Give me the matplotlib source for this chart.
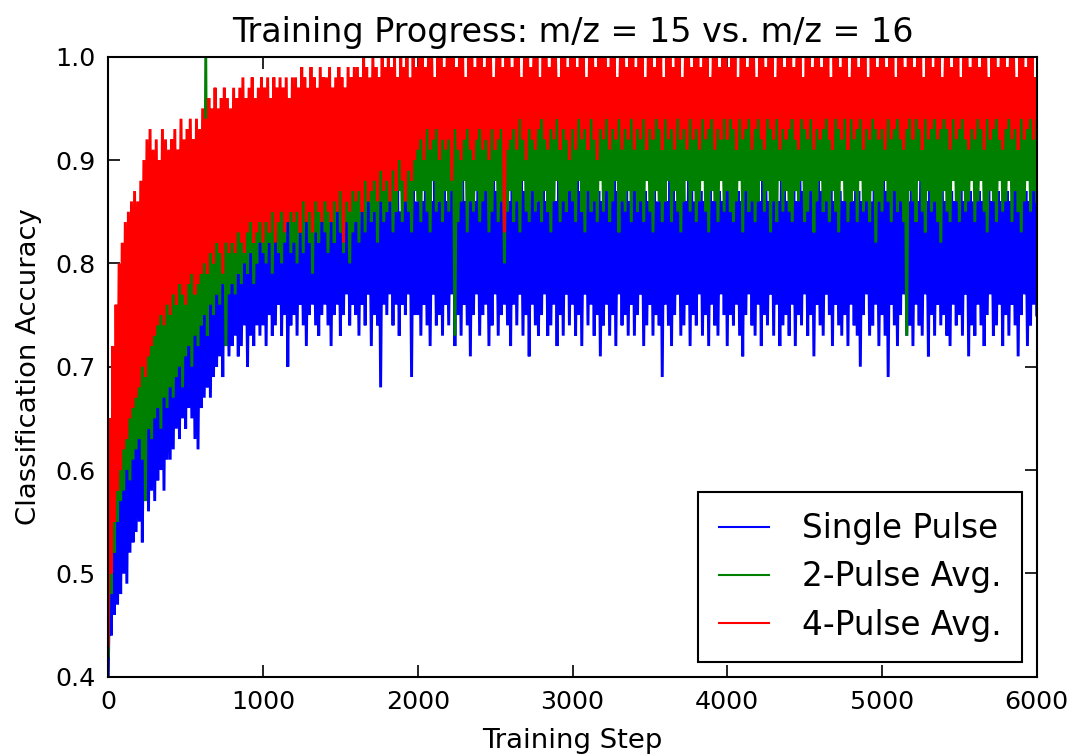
import numpy as np
import matplotlib
matplotlib.use("Agg")
import matplotlib.pyplot as plt
from matplotlib.ticker import FormatStrFormatter
from matplotlib.lines import Line2D

plt.rcParams["path.simplify"] = False

# Training steps (logged every 10 steps)
steps = np.arange(0, 6001, 10)

# Classification accuracy in percent (rows of 200 steps)
single_pulse_pct = [
    40, 52, 44, 58, 46, 62, 47, 60, 48, 64, 50, 66, 49, 68, 52, 67, 53, 70, 54, 72,
    55, 73, 53, 70, 57, 74, 56, 75, 58, 76, 57, 74, 59, 77, 60, 76, 58, 78, 61, 77,
    61, 78, 62, 79, 64, 78, 63, 80, 65, 79, 64, 81, 66, 80, 65, 79, 63, 81, 62, 80,
    66, 82, 67, 81, 68, 83, 67, 82, 69, 81, 70, 83, 71, 82, 69, 84, 72, 83, 71, 82,
    72, 84, 73, 83, 71, 85, 72, 84, 74, 83, 70, 85, 73, 84, 72, 86, 74, 85, 73, 84,
    74, 85, 72, 86, 75, 84, 73, 86, 74, 85, 76, 87, 73, 85, 75, 86, 70, 84, 74, 86,
    75, 86, 73, 85, 76, 87, 74, 86, 72, 85, 75, 87, 76, 86, 74, 85, 73, 87, 75, 86,
    76, 87, 74, 86, 72, 85, 75, 87, 76, 86, 73, 88, 75, 86, 77, 87, 74, 85, 76, 88,
    75, 86, 73, 87, 76, 85, 74, 88, 77, 86, 72, 87, 75, 86, 74, 88, 68, 87, 76, 86,
    75, 87, 77, 86, 74, 88, 76, 87, 73, 85, 76, 88, 75, 86, 77, 87, 69, 88, 75, 86,
    75, 87, 73, 86, 76, 88, 74, 87, 72, 86, 77, 88, 74, 86, 75, 87, 73, 88, 76, 86,
    74, 87, 77, 88, 72, 86, 75, 87, 73, 88, 76, 86, 74, 87, 71, 88, 75, 86, 77, 87,
    73, 86, 75, 88, 76, 87, 72, 86, 74, 88, 77, 87, 73, 86, 75, 88, 76, 87, 74, 86,
    72, 88, 76, 87, 74, 86, 77, 88, 73, 87, 75, 86, 71, 88, 76, 87, 74, 86, 73, 88,
    75, 87, 77, 86, 73, 88, 74, 87, 76, 86, 72, 88, 75, 87, 73, 86, 77, 88, 74, 87,
    76, 86, 73, 88, 75, 87, 72, 86, 77, 88, 74, 87, 76, 86, 73, 88, 75, 87, 71, 86,
    74, 88, 76, 87, 73, 86, 75, 88, 72, 87, 77, 86, 74, 88, 75, 87, 73, 86, 76, 88,
    73, 87, 75, 86, 77, 88, 72, 87, 74, 86, 76, 88, 73, 87, 75, 86, 74, 88, 69, 87,
    76, 86, 74, 88, 72, 87, 75, 86, 77, 88, 73, 87, 74, 86, 76, 88, 72, 87, 75, 86,
    74, 88, 77, 87, 73, 86, 75, 88, 72, 87, 76, 86, 74, 88, 73, 87, 77, 86, 75, 88,
    72, 87, 75, 86, 74, 88, 76, 87, 73, 86, 71, 88, 75, 87, 77, 86, 74, 88, 73, 87,
    76, 86, 72, 88, 75, 87, 74, 86, 77, 88, 73, 87, 76, 86, 72, 88, 74, 87, 75, 86,
    73, 88, 76, 87, 72, 86, 75, 88, 74, 87, 77, 86, 73, 88, 75, 87, 71, 86, 76, 88,
    74, 87, 73, 86, 77, 88, 75, 87, 72, 86, 76, 88, 74, 87, 73, 86, 75, 88, 72, 87,
    76, 86, 74, 88, 73, 87, 70, 86, 75, 88, 77, 87, 73, 86, 74, 88, 76, 87, 72, 86,
    75, 88, 73, 87, 69, 86, 76, 88, 74, 87, 72, 86, 75, 88, 77, 87, 73, 86, 74, 88,
    72, 87, 76, 86, 74, 88, 73, 87, 77, 86, 71, 88, 75, 87, 73, 86, 76, 88, 74, 87,
    75, 86, 73, 88, 72, 87, 76, 86, 74, 88, 75, 87, 73, 86, 77, 88, 71, 87, 74, 86,
    73, 88, 76, 87, 74, 86, 72, 88, 75, 87, 77, 86, 73, 88, 74, 87, 76, 86, 72, 88,
    75, 87, 73, 86, 76, 88, 74, 87, 71, 86, 75, 88, 77, 87, 72, 86, 74, 88, 76, 87,
    75,
]

two_pulse_pct = [
    42, 60, 48, 66, 52, 70, 55, 72, 57, 74, 58, 76, 60, 78, 59, 80, 61, 79, 62, 81,
    63, 82, 61, 83, 57, 81, 64, 84, 63, 83, 65, 85, 66, 84, 64, 86, 67, 85, 66, 86,
    68, 86, 67, 87, 69, 86, 70, 88, 68, 87, 71, 88, 72, 87, 70, 89, 73, 88, 72, 87,
    74, 89, 75, 100, 73, 88, 76, 89, 75, 90, 77, 88, 76, 89, 78, 90, 72, 89, 77, 88,
    78, 90, 77, 89, 79, 91, 78, 90, 80, 89, 79, 91, 81, 90, 78, 89, 80, 91, 82, 90,
    81, 91, 80, 90, 82, 92, 79, 91, 83, 90, 81, 92, 80, 91, 82, 90, 84, 92, 81, 91,
    82, 92, 80, 91, 83, 93, 81, 92, 84, 91, 82, 93, 79, 92, 83, 91, 82, 93, 84, 92,
    83, 93, 81, 92, 84, 91, 82, 93, 85, 92, 83, 94, 81, 93, 84, 92, 80, 93, 83, 94,
    84, 93, 82, 94, 85, 92, 83, 93, 86, 94, 84, 92, 85, 93, 82, 94, 86, 93, 84, 92,
    85, 94, 86, 93, 83, 94, 85, 92, 87, 94, 84, 93, 86, 94, 85, 93, 83, 92, 87, 94,
    86, 94, 84, 95, 87, 93, 85, 94, 83, 95, 88, 94, 85, 93, 86, 95, 84, 94, 87, 95,
    85, 94, 87, 95, 73, 94, 84, 93, 86, 95, 88, 94, 83, 95, 86, 94, 85, 93, 87, 95,
    84, 94, 86, 95, 87, 93, 83, 94, 85, 95, 88, 94, 84, 93, 86, 95, 80, 94, 85, 95,
    87, 94, 84, 96, 86, 95, 83, 94, 88, 96, 85, 95, 84, 94, 87, 96, 85, 95, 86, 94,
    84, 95, 87, 96, 85, 94, 83, 95, 86, 96, 88, 94, 84, 95, 86, 96, 85, 94, 87, 95,
    86, 96, 84, 95, 88, 94, 85, 96, 83, 95, 87, 94, 85, 96, 86, 95, 84, 94, 88, 96,
    85, 95, 87, 94, 84, 96, 86, 95, 88, 94, 83, 96, 86, 95, 85, 94, 87, 96, 84, 95,
    87, 94, 85, 96, 86, 95, 84, 94, 88, 96, 85, 95, 83, 94, 87, 96, 86, 95, 84, 94,
    86, 96, 88, 95, 84, 94, 87, 96, 85, 95, 83, 94, 86, 96, 88, 95, 85, 94, 87, 96,
    84, 95, 86, 94, 88, 96, 85, 95, 83, 94, 87, 96, 86, 95, 84, 94, 88, 96, 85, 95,
    87, 94, 85, 96, 84, 95, 86, 94, 88, 96, 83, 95, 87, 94, 85, 96, 86, 95, 84, 94,
    86, 96, 88, 95, 85, 94, 87, 96, 83, 95, 86, 94, 84, 96, 88, 95, 85, 94, 87, 96,
    85, 95, 84, 94, 87, 96, 86, 95, 88, 94, 84, 96, 85, 95, 87, 94, 83, 96, 86, 95,
    88, 94, 85, 96, 86, 95, 84, 94, 87, 96, 85, 95, 83, 94, 88, 96, 86, 95, 84, 94,
    86, 96, 87, 95, 84, 94, 88, 96, 85, 95, 86, 94, 84, 96, 87, 95, 82, 94, 86, 96,
    85, 95, 88, 94, 86, 96, 84, 95, 87, 94, 85, 96, 86, 95, 84, 94, 73, 96, 87, 95,
    86, 94, 84, 96, 88, 95, 85, 94, 83, 96, 87, 95, 85, 94, 86, 96, 84, 95, 82, 94,
    87, 96, 85, 95, 84, 94, 88, 96, 86, 95, 84, 94, 87, 96, 85, 95, 86, 94, 88, 96,
    84, 95, 86, 94, 88, 96, 85, 95, 83, 94, 87, 96, 86, 95, 84, 94, 88, 96, 85, 95,
    86, 94, 88, 96, 84, 95, 87, 94, 85, 96, 83, 95, 86, 94, 88, 96, 85, 95, 87, 94,
    86,
]

four_pulse_pct = [
    43, 65, 50, 72, 55, 76, 58, 80, 60, 82, 62, 84, 63, 85, 65, 86, 66, 87, 67, 86,
    68, 88, 70, 90, 69, 92, 71, 93, 72, 91, 73, 92, 74, 90, 75, 93, 74, 92, 76, 91,
    75, 92, 77, 93, 76, 91, 78, 94, 77, 92, 76, 93, 78, 94, 79, 92, 77, 94, 78, 93,
    79, 95, 80, 94, 79, 96, 81, 95, 80, 97, 82, 95, 81, 96, 79, 97, 82, 96, 81, 95,
    82, 97, 81, 96, 83, 97, 82, 98, 81, 96, 83, 97, 84, 98, 82, 96, 83, 97, 84, 98,
    82, 97, 84, 98, 83, 96, 85, 98, 82, 97, 84, 98, 85, 97, 83, 98, 84, 96, 85, 98,
    84, 98, 85, 97, 83, 99, 86, 98, 84, 97, 85, 99, 83, 98, 86, 97, 85, 99, 84, 98,
    86, 98, 85, 99, 84, 97, 86, 98, 85, 99, 87, 98, 82, 97, 86, 99, 85, 98, 87, 99,
    86, 99, 87, 98, 85, 100, 88, 99, 86, 98, 87, 100, 88, 99, 86, 98, 89, 100, 87, 99,
    88, 100, 86, 99, 89, 100, 87, 98, 90, 100, 88, 99, 86, 100, 89, 98, 88, 100, 90, 99,
    91, 100, 92, 100, 90, 99, 93, 100, 91, 100, 92, 98, 93, 100, 90, 100, 92, 99, 91, 100,
    92, 100, 88, 100, 93, 99, 91, 100, 90, 100, 92, 98, 93, 100, 91, 100, 90, 99, 92, 100,
    93, 100, 91, 99, 92, 100, 90, 100, 93, 98, 91, 100, 92, 100, 93, 99, 83, 100, 91, 100,
    92, 99, 93, 100, 91, 100, 94, 98, 92, 100, 90, 100, 93, 99, 92, 100, 91, 100, 93, 98,
    94, 100, 92, 100, 91, 99, 93, 100, 92, 100, 94, 98, 91, 100, 93, 100, 92, 99, 90, 100,
    93, 100, 91, 99, 94, 100, 92, 100, 93, 98, 91, 100, 94, 100, 92, 99, 90, 100, 93, 100,
    92, 100, 94, 99, 91, 100, 93, 100, 92, 98, 94, 100, 91, 100, 93, 99, 92, 100, 94, 100,
    91, 99, 93, 100, 92, 100, 94, 98, 91, 100, 93, 100, 92, 99, 94, 100, 93, 100, 91, 98,
    94, 100, 92, 100, 93, 99, 91, 100, 94, 100, 92, 98, 93, 100, 91, 100, 94, 99, 92, 100,
    93, 100, 91, 99, 94, 100, 92, 100, 93, 98, 94, 100, 91, 100, 93, 99, 92, 100, 94, 100,
    92, 99, 94, 100, 93, 100, 91, 98, 94, 100, 92, 100, 93, 99, 94, 100, 91, 100, 93, 98,
    94, 100, 92, 100, 91, 99, 94, 100, 93, 100, 92, 98, 94, 100, 91, 100, 93, 99, 92, 100,
    93, 100, 94, 99, 92, 100, 91, 100, 94, 98, 93, 100, 92, 100, 94, 99, 91, 100, 93, 100,
    92, 99, 93, 100, 94, 100, 92, 98, 91, 100, 94, 100, 93, 99, 92, 100, 94, 100, 91, 98,
    94, 100, 92, 100, 93, 99, 94, 100, 91, 100, 93, 98, 92, 100, 94, 100, 93, 99, 92, 100,
    93, 100, 91, 99, 94, 100, 92, 100, 93, 98, 94, 100, 92, 100, 91, 99, 93, 100, 94, 100,
    92, 99, 94, 100, 93, 100, 91, 98, 94, 100, 92, 100, 93, 99, 94, 100, 92, 100, 93, 98,
    94, 100, 93, 100, 91, 99, 94, 100, 92, 100, 93, 98, 94, 100, 92, 100, 91, 99, 93, 100,
    92, 100, 94, 99, 93, 100, 91, 100, 94, 98, 92, 100, 93, 100, 94, 99, 92, 100, 91, 100,
    93, 99, 94, 100, 92, 100, 93, 98, 91, 100, 94, 100, 92, 99, 93, 100, 94, 100, 92, 98,
    94,
]

series_labels = ["Single Pulse", "2-Pulse Avg.", "4-Pulse Avg."]
series_colors = ["#0000ff", "#008000", "#ff0000"]
series_values = [single_pulse_pct, two_pulse_pct, four_pulse_pct]

x_ticks = [0, 1000, 2000, 3000, 4000, 5000, 6000]
y_ticks = [0.4, 0.5, 0.6, 0.7, 0.8, 0.9, 1.0]

for vals in series_values:
    assert len(vals) == len(steps), len(vals)

fig = plt.figure(figsize=(1071 / 150, 755 / 150), dpi=150)
ax = fig.add_axes([0.1011, 0.1037, 0.8669, 0.8212])

handles = []
for vals, lab, col in zip(series_values, series_labels, series_colors):
    ax.plot(steps, np.asarray(vals) / 100.0, color=col, lw=1.4,
            solid_joinstyle="miter")
    handles.append(Line2D([], [], color=col, lw=1.0, label=lab))

ax.set_xlim(0, 6000)
ax.set_ylim(0.4, 1.0)
ax.set_xticks(x_ticks)
ax.set_yticks(y_ticks)
ax.yaxis.set_major_formatter(FormatStrFormatter("%.1f"))
ax.tick_params(direction="in", top=True, right=True, length=5.8, width=0.8,
               labelsize=12.2, pad=6.3, colors="black")
for sp in ax.spines.values():
    sp.set_linewidth(1.0)
    sp.set_color("black")
    sp.set_zorder(5)

ax.set_title("Training Progress: m/z = 15 vs. m/z = 16", fontsize=16, pad=7)
ax.set_xlabel("Training Step", fontsize=13.2, labelpad=7)
ax.set_ylabel("Classification Accuracy", fontsize=13.2, labelpad=6)

leg = ax.legend(handles=handles, loc="lower right", fontsize=15.7,
                handlelength=1.55, handletextpad=1.0, borderaxespad=0.45,
                borderpad=0.62, labelspacing=0.47, fancybox=False,
                framealpha=1.0, edgecolor="black")
leg.get_frame().set_linewidth(1.0)

fig.savefig("out.png", dpi=150)
